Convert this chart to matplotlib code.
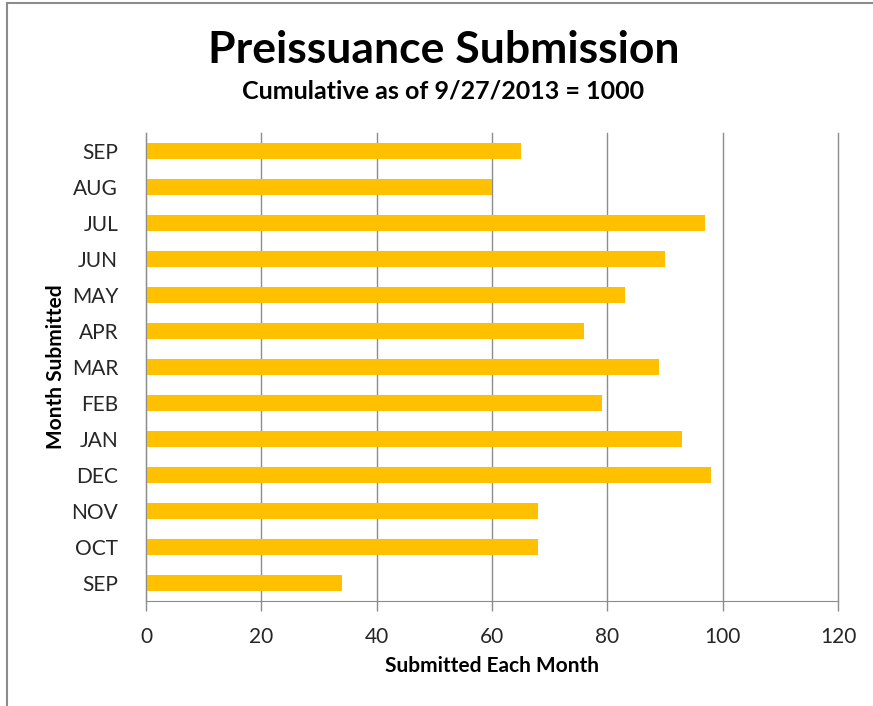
import matplotlib.pyplot as plt
from matplotlib.patches import Rectangle

months = ['SEP', 'OCT', 'NOV', 'DEC', 'JAN', 'FEB', 'MAR',
          'APR', 'MAY', 'JUN', 'JUL', 'AUG', 'SEP']
submitted = [34, 68, 68, 98, 93, 79, 89, 76, 83, 90, 97, 60, 65]
xticks = [0, 20, 40, 60, 80, 100, 120]

plt.rcParams['font.family'] = ['Lato', 'DejaVu Sans']

fig = plt.figure(figsize=(8.73, 7.06), dpi=100)
ax = fig.add_axes([146 / 873, 1 - 601 / 706, (838 - 146) / 873, (601 - 133) / 706])

pos = list(range(len(months)))
ax.barh(pos, submitted, height=0.42, color='#FFC000', zorder=3)

ax.set_xlim(0, 120)
ax.set_ylim(-0.5, len(months) - 0.5)
ax.set_xticks(xticks)
ax.set_xticklabels([str(t) for t in xticks], fontsize=15, color='#262626')
ax.set_yticks(pos)
ax.set_yticklabels(months, fontsize=15, color='#262626')
ax.tick_params(axis='y', length=0, pad=20)
ax.tick_params(axis='x', length=7, width=1, color='#8c8c8c', pad=12)
ax.grid(axis='x', color='#8c8c8c', linewidth=1, zorder=0)
for gl in ax.get_xgridlines():
    gl.set_clip_on(False)
for s in ['top', 'right']:
    ax.spines[s].set_visible(False)
ax.spines['left'].set_color('#8c8c8c')
ax.spines['bottom'].set_color('#8c8c8c')
ax.spines['left'].set_zorder(4)

ax.set_xlabel('Submitted Each Month', fontsize=15, fontweight='bold', labelpad=6)
ax.set_ylabel('Month Submitted', fontsize=15, fontweight='bold', labelpad=4)

fig.text(0.508, 1 - 50 / 706, 'Preissuance Submission', ha='center', va='center',
         fontsize=32, fontweight='bold')
fig.text(0.508, 1 - 91 / 706, 'Cumulative as of 9/27/2013 = 1000', ha='center', va='center',
         fontsize=18, fontweight='bold')

fig.patches.append(Rectangle((7 / 873, -0.01), 1.0, 1 - 3 / 706 + 0.01,
                             transform=fig.transFigure, fill=False,
                             edgecolor='#8c8c8c', linewidth=1.5))

fig.savefig('out.png', dpi=100)
